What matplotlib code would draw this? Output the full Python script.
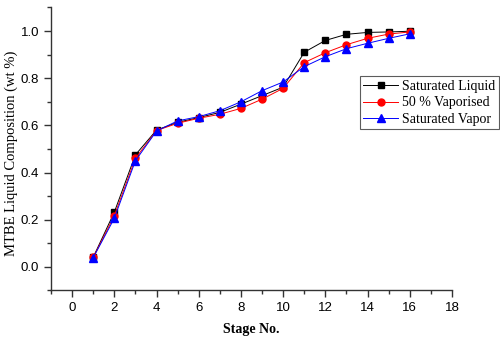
import matplotlib.pyplot as plt
from matplotlib.ticker import MultipleLocator

stages = [1, 2, 3, 4, 5, 6, 7, 8, 9, 10, 11, 12, 13, 14, 15, 16]
sat_liquid = [0.041, 0.232, 0.475, 0.58, 0.613, 0.633, 0.655, 0.69, 0.726, 0.762,
              0.91, 0.96, 0.986, 0.994, 0.996, 0.999]
vap_50 = [0.04, 0.217, 0.46, 0.578, 0.609, 0.63, 0.647, 0.672, 0.711, 0.757,
          0.866, 0.908, 0.942, 0.969, 0.987, 0.996]
sat_vapor = [0.039, 0.206, 0.45, 0.576, 0.619, 0.637, 0.662, 0.70, 0.747, 0.784,
             0.849, 0.891, 0.925, 0.948, 0.969, 0.988]

fig = plt.figure(figsize=(5, 3.37), dpi=100)
ax = fig.add_axes([0.102, 0.138, 0.802, 0.84])

l1, = ax.plot(stages, sat_liquid, color='black', lw=0.7, marker='s', ms=4.5,
              label='Saturated Liquid')
l2, = ax.plot(stages, vap_50, color='red', lw=0.7, marker='o', ms=5,
              label='50 % Vaporised')
l3, = ax.plot(stages, sat_vapor, color='blue', lw=0.7, marker='^', ms=5.5,
              label='Saturated Vapor')

ax.set_xlim(-1, 18)
ax.set_ylim(-0.1, 1.1)
ax.xaxis.set_major_locator(MultipleLocator(2))
ax.xaxis.set_minor_locator(MultipleLocator(1))
ax.yaxis.set_minor_locator(MultipleLocator(0.1))
ax.set_yticks([0.0, 0.2, 0.4, 0.6, 0.8, 1.0])
ax.set_yticklabels(['0.0', '0.2', '0.4', '0.6', '0.8', '1.0'])

for s in ['top', 'right']:
    ax.spines[s].set_visible(False)
for s in ['left', 'bottom']:
    ax.spines[s].set_color('#333333')
    ax.spines[s].set_linewidth(1.0)

ax.tick_params(which='both', direction='out', color='#333333', width=1.0)
ax.tick_params(which='major', length=5, labelsize=9.5)
ax.tick_params(which='minor', length=3)
for lab in ax.get_xticklabels() + ax.get_yticklabels():
    lab.set_fontfamily('Liberation Sans')

ax.set_xlabel('Stage No.', fontfamily='Liberation Serif', fontsize=10,
              fontweight='bold', labelpad=6)
fig.text(0.022, 0.545, 'MTBE Liquid Composition (wt %)', rotation=90,
         ha='center', va='center', fontfamily='Liberation Serif', fontsize=10.5)

leg = fig.legend(handles=[l1, l2, l3], loc='upper left',
                 bbox_to_anchor=(0.72, 0.773), frameon=True, fancybox=False,
                 prop={'family': 'Liberation Serif', 'size': 10},
                 handlelength=2.5, borderpad=0.25, labelspacing=0.25,
                 handletextpad=0.3, borderaxespad=0)
leg.get_frame().set_edgecolor('#333333')
leg.get_frame().set_linewidth(0.8)

fig.savefig('out.png', dpi=100)
